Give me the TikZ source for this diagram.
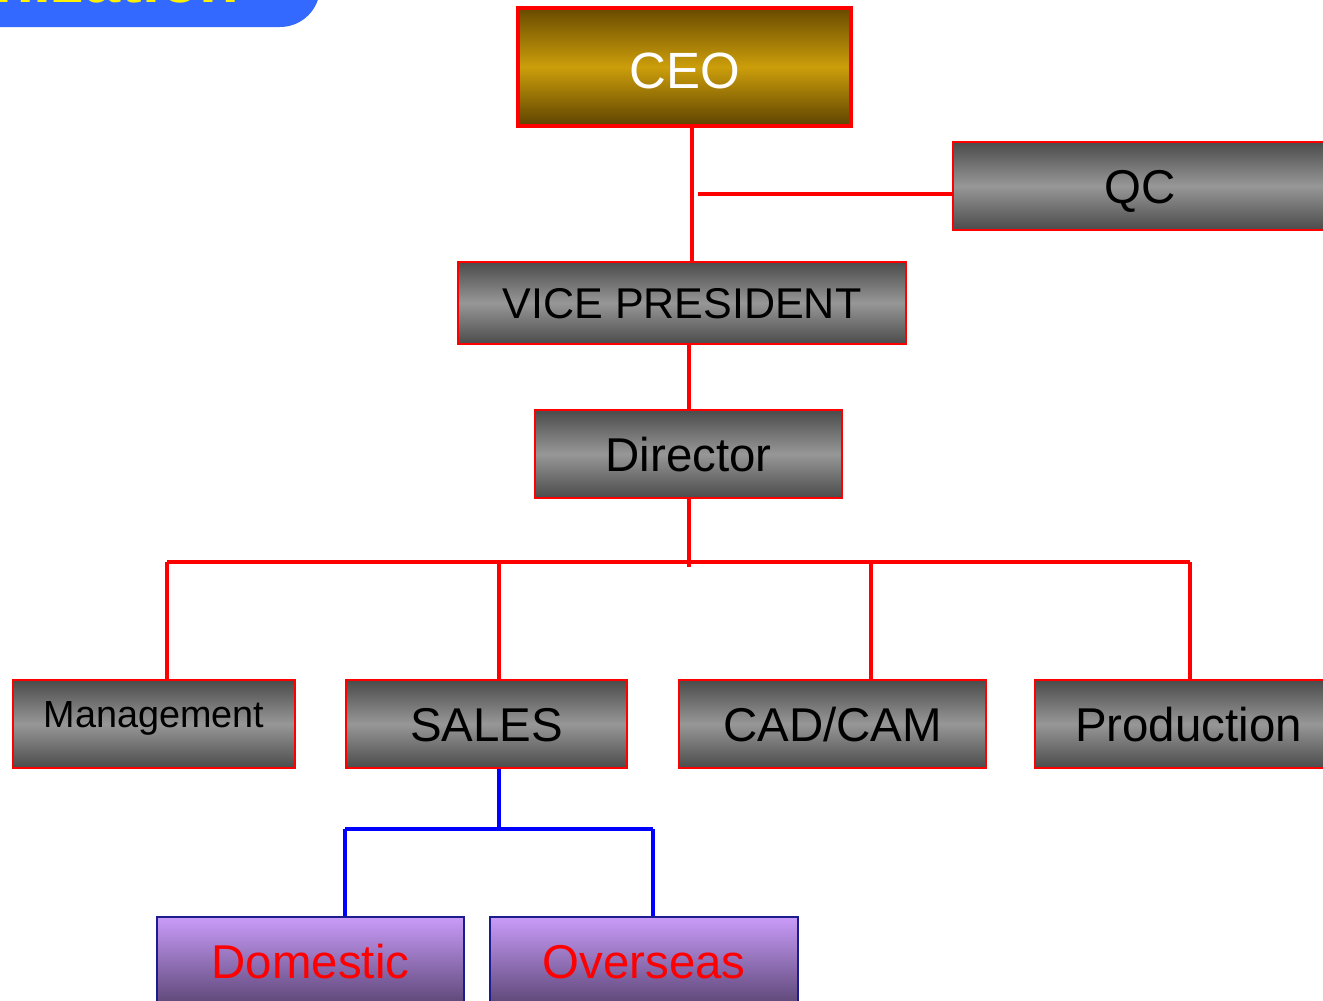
\documentclass[tikz,border=0pt]{standalone}
\usepackage{fontspec}
\setmainfont{Liberation Sans}
\definecolor{golddark}{HTML}{684A00}
\definecolor{goldmid}{HTML}{CC9E0B}
\definecolor{graydark}{HTML}{4B4B4B}
\definecolor{graymid}{HTML}{979797}
\definecolor{purtop}{HTML}{C99CF9}
\definecolor{purbot}{HTML}{5C4676}
\definecolor{navy}{HTML}{1C1C8E}
\definecolor{banner}{HTML}{3469FF}
\tikzset{
  box/.style={rectangle, draw=red, line width=1.1pt, inner sep=0pt,
    top color=graydark, bottom color=graydark, middle color=graymid,
    minimum height=1.76cm, text height=19.4pt, text depth=0pt,
    font=\fontsize{27pt}{30pt}\selectfont},
  ceobox/.style={box, line width=2.2pt, top color=golddark, bottom color=golddark!90!black,
    middle color=goldmid, text=white, text height=25pt,
    font=\fontsize{29pt}{32pt}\selectfont},
  subbox/.style={box, draw=navy, top color=purtop, bottom color=purbot, text=red},
  redline/.style={draw=red, line width=2.2pt},
  blueline/.style={draw=blue, line width=2.2pt}
}
\begin{document}
\begin{tikzpicture}[x=0.02cm, y=-0.02cm]
\clip (0,0) rectangle (1323,1001);
% banner
\fill[banner, rounded corners=0.8cm] (-60,-60) rectangle (320,27);
\node[anchor=base east, inner sep=0pt, text=yellow,
  font=\fontsize{37pt}{40pt}\selectfont\bfseries] (title) at (240,2) {nization};
% boxes
\node[ceobox, minimum width=6.66cm, minimum height=2.36cm] (ceo) at (684.5,67) {CEO};
\node[box, minimum width=7.48cm] (qc) at (1140,186) {QC};
\node[box, minimum width=8.96cm, minimum height=1.64cm, text height=17.5pt,
  font=\fontsize{24.5pt}{28pt}\selectfont] (vp) at (682,303) {VICE PRESIDENT};
\node[box, minimum width=6.14cm] (dir) at (688.5,454) {Director};
\node[box, minimum width=5.64cm, text height=15.4pt, text depth=11pt,
  font=\fontsize{21.5pt}{24pt}\selectfont] (mgmt) at (154,724) {Management};
\node[box, minimum width=5.62cm] (sales) at (486.5,724) {SALES};
\node[box, minimum width=6.14cm] (cad) at (832.5,724) {CAD/CAM};
\node[box, minimum width=6.14cm] (prod) at (1188.5,724) {Production};
\node[subbox, minimum width=6.14cm] (dom) at (310.5,961) {Domestic};
\node[subbox, minimum width=6.16cm] (ovs) at (644,961) {Overseas};
% red connectors
\draw[redline] ([xshift=.15cm]ceo.south) -- ([xshift=.2cm]vp.north);
\coordinate (qcjoint) at (698,194);
\draw[redline] (qcjoint) -- (qcjoint -| qc.west);
\draw[redline] ([xshift=.14cm]vp.south) -- ([xshift=.01cm]dir.north);
\draw[redline] ([xshift=.01cm]dir.south) -- ++(0,68);
\coordinate (busL) at (167,562);
\coordinate (busS) at (499,562);
\coordinate (busC) at (871,562);
\coordinate (busR) at (1190,562);
\draw[redline, line width=2.7pt] (busL) -- (busR);
\foreach \j/\n in {busL/mgmt, busS/sales, busC/cad, busR/prod}
  \draw[redline] (\j) -- (\j |- \n.north);
% blue connectors
\coordinate (sbusL) at (345,829);
\coordinate (sbusR) at (653,829);
\draw[blueline] ([xshift=.25cm]sales.south) -- ++(0,61);
\draw[blueline] (sbusL) -- (sbusR);
\draw[blueline] (sbusL) -- (sbusL |- dom.north);
\draw[blueline] (sbusR) -- (sbusR |- ovs.north);
\end{tikzpicture}
\end{document}
